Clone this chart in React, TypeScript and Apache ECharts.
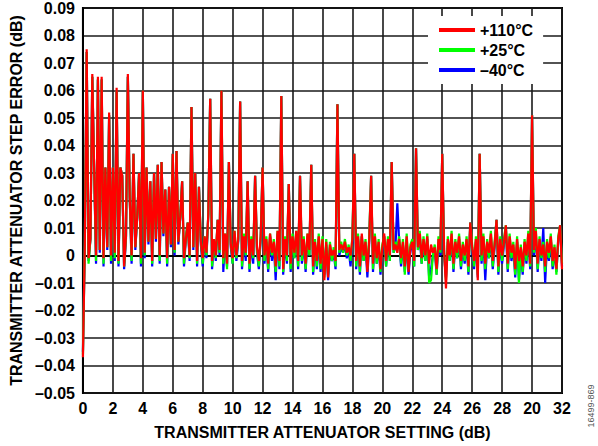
import React, { useEffect, useRef } from "react";
import * as echarts from "echarts";

// Attenuator setting step between measured points (dB)
const STEP_DB = 0.125;

// Step error values in units of 0.001 dB (mdB), one value per attenuator step, 0 dB … 32 dB
const err110C_mdB: number[] = [
  -37, 4, 75, -1, 6, 66, 31, 0, 65, 2, 65, -1, 32, 3, 52, 0,
  32, 1, 61, -2, 32, 29, -4, 7, 66, 21, 0, 37, 3, 14, 30, -1,
  60, 1, 32, 5, 27, -2, 30, 6, 33, 0, 34, 8, 24, -1, 25, 4,
  37, 2, 38, 5, 14, 27, -1, 6, 12, 0, 54, 3, 30, -2, 25, 5,
  -1, 7, 1, 15, 57, -2, 6, 0, 13, 2, 60, -1, 8, -3, 34, 4,
  -1, 9, 0, 6, 56, -2, 7, 1, 27, -3, 6, 0, 29, 3, -2, 7,
  32, 0, 6, -3, 8, 1, 5, -4, 9, -2, 58, -5, 6, 0, 26, -3,
  7, 1, 9, -2, 29, 0, 6, -3, 8, 2, 33, -4, 5, -2, 7, -3,
  6, -9, 5, -8, 4, 0, 2, -2, 55, 2, 4, 2, 5, 1, 3, 0,
  6, 37, -2, 7, -4, 8, 0, 5, -6, 6, 29, -3, 7, -1, 5, -5,
  3, 8, -2, 6, 0, 34, 2, 4, 1, 6, -1, 5, -4, 7, -6, 3,
  5, -2, 39, 3, 8, -1, 6, 0, 7, -3, 4, 1, 3, -5, 6, 2,
  37, 2, -12, 6, 0, 8, -3, 5, 1, 7, -2, 4, 0, 6, -4, 12,
  3, -2, 6, -9, 37, 0, 7, -3, 5, 1, 8, -2, 4, 13, -4, 6,
  0, 5, 11, -3, 7, 1, 4, -5, 6, -2, 3, -4, 5, 0, 8, -3,
  51, 2, 9, -3, 6, 0, 4, -4, 5, 1, 7, -2, 3, -5, 6, 11, -5,
];

const err25C_mdB: number[] = [
  -36, 4, 74, -3, 6, 65, 31, -2, 64, 2, 64, -3, 32, 3, 51, -2,
  32, -1, 60, -3, 32, 29, -4, 7, 65, 21, -2, 37, 3, 14, 30, -3,
  60, 0, 32, 5, 27, -3, 30, 6, 33, -2, 34, 8, 24, -3, 25, 4,
  37, 1, 38, 5, 14, 27, -3, 7, 12, -1, 54, 3, 30, -3, 25, 6,
  -3, 7, 0, 15, 57, -4, 6, -1, 13, 1, 60, -3, 8, -5, 34, 5,
  -3, 9, -1, 6, 56, -4, 8, 0, 27, -5, 7, -1, 29, 2, -4, 7,
  32, -2, 7, -5, 8, 0, 6, -6, 9, -4, 58, -6, 7, -2, 26, -5,
  8, -1, 9, -4, 29, -2, 7, -5, 8, 0, 33, -6, 6, -4, 8, -5,
  7, -8, 6, -7, 5, -2, 3, -4, 55, 1, 5, 1, 6, 0, 4, -2,
  7, 37, -4, 8, -6, 7, -2, 6, -5, 7, 29, -5, 8, -3, 6, -6,
  4, 7, -4, 7, -2, 34, 1, 5, 3, 7, -3, 6, -7, 8, -5, 4,
  6, -4, 39, 2, 9, -3, 7, -2, 8, -10, -9, 0, 4, -7, 7, 1,
  37, 1, -9, 7, -2, 9, -5, 6, -1, 8, -4, 5, -2, 7, -6, 12,
  4, -4, 7, -7, 37, -2, 8, -5, 6, -1, 9, -4, 5, 13, -6, 7,
  -2, 6, 11, -5, 8, -1, 5, -7, 7, -10, 4, -6, 6, -2, 9, -4,
  51, 1, 10, -5, 7, -1, 5, -6, 6, -1, 8, -4, 4, -7, 7, 11, -3,
];

const errMinus40C_mdB: number[] = [
  -35, 4, 74, -2, 6, 65, 31, -3, 64, 1, 64, -4, 32, 2, 51, -3,
  32, -2, 60, -4, 32, 29, -5, 6, 65, 21, -3, 37, 2, 14, 30, -4,
  60, -1, 32, 4, 27, -4, 30, 5, 33, -3, 34, 7, 24, -4, 25, 3,
  37, 0, 38, 4, 14, 27, -4, 6, 12, -2, 54, 2, 30, -4, 25, 4,
  -4, 6, -1, 15, 57, -5, 5, -2, 13, 0, 60, -6, 7, -4, 34, 3,
  -3, 8, -2, 5, 56, -5, 6, -2, 27, -6, 5, -3, 29, 1, -5, 6,
  32, -3, 5, -6, 7, -2, 4, -9, 8, -5, 58, -7, 5, -3, 26, -6,
  6, -1, 8, -5, 29, -3, 5, -6, 7, 0, 33, -7, 4, -5, 6, -6,
  5, -7, 4, -9, 3, -2, 1, -5, 55, 0, 3, 1, 4, -1, 2, -4,
  5, 37, -5, 6, -7, 7, -2, 4, -8, 5, 29, -6, 6, -3, 4, -7,
  2, 7, -4, 5, -2, 34, 1, 3, 19, 5, -4, 4, -6, 6, -7, 2,
  4, -4, 39, 2, 7, -3, 5, -2, 6, -8, -5, 0, 2, -7, 5, 0,
  37, 0, -8, 5, -2, 7, -6, 4, -1, 6, -5, 3, -3, 5, -7, 12,
  2, -5, 5, -8, 37, -3, 6, -9, 4, -1, 7, -5, 3, 13, -7, 5,
  -3, 4, 10, -6, 6, -2, 3, -8, 5, -9, 2, -7, 4, -3, 7, -5,
  51, 0, 8, -6, 5, -2, 10, -10, 4, -2, 6, -5, 2, -6, 5, 11, -4,
];

const seriesNames = ["+110°C", "+25°C", "\u201340°C"];
const seriesColors = ["#ff0000", "#00ff00", "#0000ff"];

// x tick labels as printed (the original shows "20" at the 30 dB position)
const xTickLabels = ["0", "2", "4", "6", "8", "10", "12", "14", "16", "18", "20", "22", "24", "26", "28", "20", "32"];

const FONT = "'Liberation Sans', Arial, sans-serif";

function toSeries(vals: number[]): [number, number][] {
  return vals.map((v, i) => [i * STEP_DB, v / 1000]);
}

function yLabel(v: number): string {
  const r = Math.round(v * 100) / 100;
  if (Math.abs(r) < 1e-9) return "0";
  return (r < 0 ? "\u2013" : "") + Math.abs(r).toFixed(2);
}

export default function App() {
  const ref = useRef<HTMLDivElement>(null);
  useEffect(() => {
    if (!ref.current) return;
    const chart = echarts.init(ref.current, undefined, { renderer: "svg" });
    const lineBase = { type: "line" as const, showSymbol: false, symbol: "none", smooth: false };
    const LW = 2.2;
    chart.setOption({
      animation: false,
      backgroundColor: "#ffffff",
      textStyle: { fontFamily: FONT },
      grid: {
        left: 79,
        right: 36,
        top: 8,
        bottom: 53,
        show: true,
        borderColor: "#000",
        borderWidth: 2,
        backgroundColor: "transparent",
      },
      legend: {
        data: seriesNames,
        orient: "vertical",
        left: 428,
        top: 16,
        padding: [6, 10, 6, 11],
        itemGap: 4,
        itemWidth: 36,
        itemHeight: 4,
        icon: "rect",
        backgroundColor: "#ffffff",
        textStyle: { fontFamily: FONT, fontWeight: "bold", fontSize: 16, color: "#000" },
      },
      xAxis: {
        type: "value",
        min: 0,
        max: 32,
        interval: 2,
        name: "TRANSMITTER ATTENUATOR SETTING (dB)",
        nameLocation: "middle",
        nameGap: 31,
        nameTextStyle: { fontFamily: FONT, fontWeight: "bold", fontSize: 16, color: "#000" },
        axisLine: { show: true, lineStyle: { color: "#000", width: 2 } },
        axisTick: { show: false },
        axisLabel: {
          margin: 7,
          fontFamily: FONT,
          fontWeight: "bold",
          fontSize: 16,
          color: "#000",
          formatter: (v: number) => xTickLabels[Math.round(v / 2)] ?? String(v),
        },
        splitLine: { show: true, lineStyle: { color: "#1a1a1a", width: 1.6 } },
      },
      yAxis: {
        type: "value",
        min: -0.05,
        max: 0.09,
        interval: 0.01,
        name: "TRANSMITTER ATTENUATOR STEP ERROR (dB)",
        nameLocation: "middle",
        nameGap: 57,
        nameTextStyle: { fontFamily: FONT, fontWeight: "bold", fontSize: 16, color: "#000" },
        axisLine: { show: true, lineStyle: { color: "#000", width: 2 } },
        axisTick: { show: false },
        axisLabel: {
          margin: 8,
          fontFamily: FONT,
          fontWeight: "bold",
          fontSize: 16,
          color: "#000",
          formatter: yLabel,
        },
        splitLine: { show: true, lineStyle: { color: "#1a1a1a", width: 1.6 } },
      },
      graphic: [
        {
          type: "text",
          x: 591,
          y: 406,
          rotation: Math.PI / 2,
          style: {
            text: "16499-869",
            fontFamily: FONT,
            fontSize: 9,
            fill: "#555",
            textAlign: "center",
            textVerticalAlign: "middle",
          },
        },
      ],
      series: [
        { ...lineBase, name: seriesNames[2], data: toSeries(errMinus40C_mdB), lineStyle: { color: seriesColors[2], width: LW }, itemStyle: { color: seriesColors[2] }, z: 2 },
        { ...lineBase, name: seriesNames[1], data: toSeries(err25C_mdB), lineStyle: { color: seriesColors[1], width: LW }, itemStyle: { color: seriesColors[1] }, z: 3 },
        { ...lineBase, name: seriesNames[0], data: toSeries(err110C_mdB), lineStyle: { color: seriesColors[0], width: LW }, itemStyle: { color: seriesColors[0] }, z: 4 },
      ],
    });
    return () => chart.dispose();
  }, []);
  return <div ref={ref} style={{ position: "absolute", left: 0, top: 0, width: 598, height: 446 }} />;
}
